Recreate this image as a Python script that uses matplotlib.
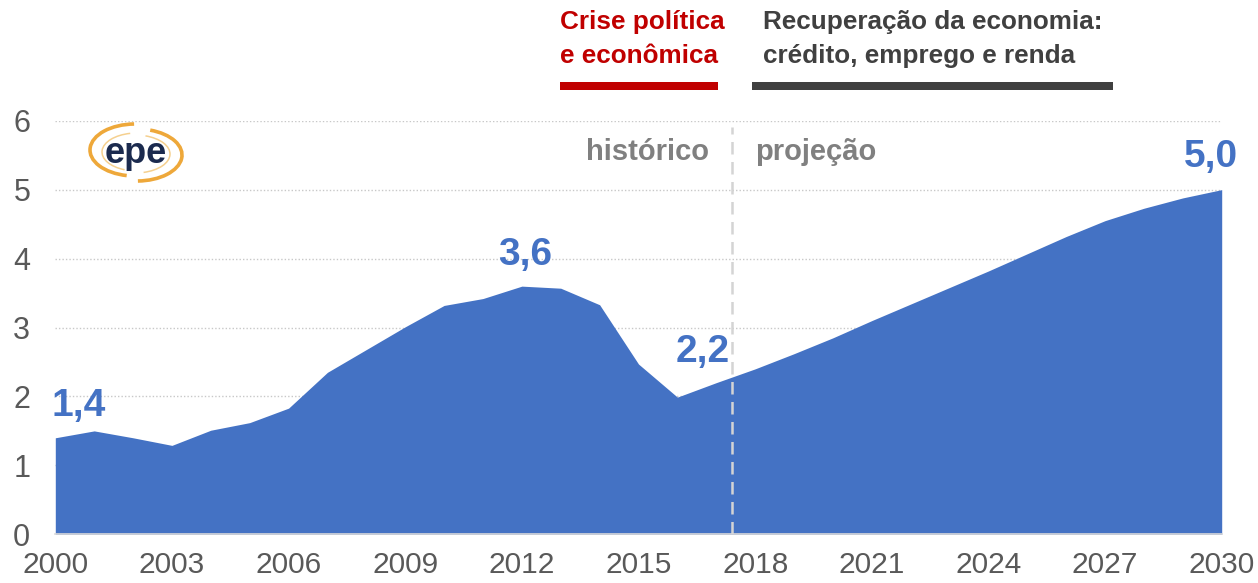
import matplotlib
matplotlib.use("Agg")
import matplotlib.pyplot as plt
from matplotlib.patches import Rectangle, Arc

plt.rcParams['font.family'] = ['Liberation Sans', 'DejaVu Sans']

# Series: historical (2000-2017) + projection (2018-2030)
years = list(range(2000, 2031))
values = [1.40, 1.50, 1.40, 1.29, 1.51, 1.62, 1.83, 2.35, 2.68, 3.01,
          3.32, 3.42, 3.60, 3.57, 3.33, 2.47, 1.99, 2.20, 2.40, 2.62,
          2.85, 3.10, 3.34, 3.58, 3.82, 4.07, 4.32, 4.55, 4.73, 4.88,
          5.00]
xticks = list(range(2000, 2031, 3))
yticks = [0, 1, 2, 3, 4, 5, 6]
highlight_years = [2000, 2012, 2017, 2030]
highlight_offsets = {2000: (16.5, 23), 2012: (2, 22.5), 2017: (-9.5, 22), 2030: (-7.5, 23.5)}
split_year = 2017.4

W, H = 1258, 583
fig = plt.figure(figsize=(W / 100, H / 100), dpi=100)
ax = fig.add_axes([55.3 / W, 1 - 534.3 / H, (1221.7 - 55.3) / W, (534.3 - 120.7) / H])

blue = '#4472c4'
ax.fill_between(years, values, 0, color=blue, lw=0, zorder=2)

ax.set_xlim(2000, 2030)
ax.set_ylim(0, 6)
ax.set_xticks(xticks)
ax.set_yticks(yticks)
for s in ['top', 'right', 'left']:
    ax.spines[s].set_visible(False)
ax.spines['bottom'].set_color('#d9d9d9')
ax.spines['bottom'].set_linewidth(1.2)
ax.spines['bottom'].set_zorder(3)
ax.tick_params(axis='both', length=0, labelsize=22, labelcolor='#595959')
ax.tick_params(axis='y', pad=18)
ax.tick_params(axis='x', labelsize=21.5, pad=12)

for yv in yticks[1:]:
    ax.axhline(yv, color='#c8c8c8', lw=1.0, ls=(0, (1, 1.5)), zorder=1)

ax.axvline(split_year, 0, 0.985, color='#d4d4d4', lw=1.8, ls=(0, (5, 3)), zorder=3)

ax.text(split_year - 0.58, 5.55, 'histórico', ha='right', va='center',
        fontsize=21, fontweight='bold', color='#808080')
ax.text(split_year + 0.6, 5.55, 'projeção', ha='left', va='center',
        fontsize=21, fontweight='bold', color='#808080')

for yr in highlight_years:
    v = values[years.index(yr)]
    dx, dy = highlight_offsets[yr]
    ax.annotate(f'{v:.1f}'.replace('.', ','), (yr, v), xytext=(dx, dy),
                textcoords='offset points', ha='center', va='center',
                fontsize=28, fontweight='bold', color=blue, zorder=4)

# Headline blocks above the chart
head_size = 18.8
fig.text(560 / W, 1 - 29.5 / H, 'Crise política', ha='left', va='baseline',
         fontsize=head_size, fontweight='bold', color='#c00000')
fig.text(560 / W, 1 - 63 / H, 'e econômica', ha='left', va='baseline',
         fontsize=head_size, fontweight='bold', color='#c00000')
fig.text(763 / W, 1 - 29.5 / H, 'Recuperação da economia:', ha='left', va='baseline',
         fontsize=head_size, fontweight='bold', color='#404040')
fig.text(763 / W, 1 - 63 / H, 'crédito, emprego e renda', ha='left', va='baseline',
         fontsize=head_size, fontweight='bold', color='#404040')
fig.add_artist(Rectangle((560 / W, 1 - 89.5 / H), 158 / W, 7.5 / H,
                         color='#c00000', transform=fig.transFigure, lw=0))
fig.add_artist(Rectangle((752 / W, 1 - 89.5 / H), 361 / W, 7.5 / H,
                         color='#404040', transform=fig.transFigure, lw=0))

# EPE logo
lax = fig.add_axes([80 / W, 1 - 188 / H, 110 / W, 66 / H])
lax.set_xlim(0, 110)
lax.set_ylim(0, 66)
lax.axis('off')
orange = '#eea83a'
lax.add_patch(Arc((55, 38), 90, 52, theta1=92, theta2=252, lw=2.6, color=orange))
lax.add_patch(Arc((57, 33), 90, 52, theta1=-88, theta2=62, lw=2.6, color=orange))
lax.add_patch(Arc((57, 36), 70, 38, theta1=110, theta2=235, lw=1.1, color='#f5d08f'))
lax.add_patch(Arc((55, 34), 70, 38, theta1=-65, theta2=60, lw=1.1, color='#f5d08f'))
lax.text(55.7, 25, 'epe', ha='center', va='baseline', fontsize=26, fontweight='bold',
         color='#1b2a4e')

fig.savefig('out.png', dpi=100)
